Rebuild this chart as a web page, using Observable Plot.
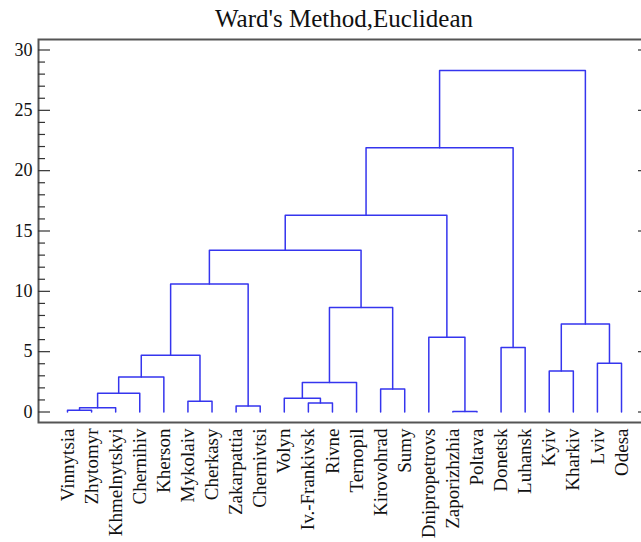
<!DOCTYPE html>
<html><head><meta charset="utf-8">
<script src="https://cdn.jsdelivr.net/npm/d3@7"></script>
<script src="https://cdn.jsdelivr.net/npm/@observablehq/plot@0.6"></script>
<style>
body{margin:0;background:#fff;}
#wrap{position:relative;width:641px;height:542px;overflow:hidden;background:#fff;}
#title{position:absolute;top:6px;left:344px;transform:translateX(-50%);white-space:nowrap;font-family:"Liberation Serif",serif;font-size:25px;line-height:25px;color:#111;}
#wrap svg{position:absolute;left:0;top:0;}
</style></head><body>
<div id="wrap"><div id="title"></div></div>
<script>
const title = "Ward's Method,Euclidean";
const leaves = ["Vinnytsia","Zhytomyr","Khmelnytskyi","Chernihiv","Kherson","Mykolaiv","Cherkasy","Zakarpattia","Chernivtsi","Volyn","Iv.-Frankivsk","Rivne","Ternopil","Kirovohrad","Sumy","Dnipropetrovs","Zaporizhzhia","Poltava","Donetsk","Luhansk","Kyiv","Kharkiv","Lviv","Odesa"];
// linkage: child index < 24 is a leaf, >= 24 is merge (index - 24)
const mergeLeft  = [0, 24, 25, 26, 5, 27, 7, 29, 10, 9, 33, 13, 34, 31, 16, 15, 37, 18, 40, 20, 22, 43, 42];
const mergeRight = [1, 2, 3, 4, 6, 28, 8, 30, 11, 32, 12, 14, 35, 36, 17, 38, 39, 19, 41, 21, 23, 44, 45];
const mergeHeight = [0.15, 0.35, 1.55, 2.9, 0.9, 4.7, 0.5, 10.6, 0.75, 1.15, 2.45, 1.9, 8.65, 13.4, 0.05, 6.2, 16.3, 5.35, 21.9, 3.4, 4.05, 7.3, 28.3];
const majorTicks = [0, 5, 10, 15, 20, 25, 30];
const minorTicks = [1,2,3,4,6,7,8,9,11,12,13,14,16,17,18,19,21,22,23,24,26,27,28,29];

document.getElementById("title").textContent = title;

const n = leaves.length;
const pos = leaves.map((d, i) => i);
const hgt = leaves.map(() => 0);
const rows = [];
mergeLeft.forEach((l, k) => {
  const r = mergeRight[k], H = mergeHeight[k];
  pos[n + k] = (pos[l] + pos[r]) / 2;
  hgt[n + k] = H;
  rows.push({id: k, x: pos[l], y: hgt[l]}, {id: k, x: pos[l], y: H}, {id: k, x: pos[r], y: H}, {id: k, x: pos[r], y: hgt[r]});
});
const leafIdx = leaves.map((d, i) => i);

const W = 641, mL = 38, mR = -2;
const inner = W - mL - mR;

const chart = Plot.plot({
  width: W, height: 542,
  marginLeft: mL, marginRight: mR, marginTop: 39, marginBottom: 120,
  x: {domain: [-1.204, 23.913], label: null},
  y: {domain: [-0.87, 30.87], label: null},
  style: {fontFamily: "'Liberation Serif', serif", color: "#111", background: "transparent", overflow: "visible"},
  marks: [
    Plot.frame({stroke: "#555", strokeWidth: 2}),
    Plot.tickY(minorTicks, {y: d => d, insetRight: inner - 7, stroke: "#333", strokeWidth: 1.2}),
    Plot.tickY(majorTicks, {y: d => d, insetRight: inner - 12, stroke: "#333", strokeWidth: 1.2}),
    Plot.tickY(majorTicks, {y: d => d, insetLeft: inner - 5, stroke: "#333", strokeWidth: 1.2}),
    Plot.axisY(majorTicks, {tickSize: 0, tickPadding: 6, fontSize: 18}),
    Plot.axisX(leafIdx, {tickSize: 0, tickPadding: 6, tickRotate: -90, tickFormat: i => leaves[i], fontSize: 19}),
    Plot.line(rows, {x: "x", y: "y", z: "id", stroke: "#3535ee", strokeWidth: 1.5})
  ]
});
document.getElementById("wrap").appendChild(chart);
</script>
</body></html>
